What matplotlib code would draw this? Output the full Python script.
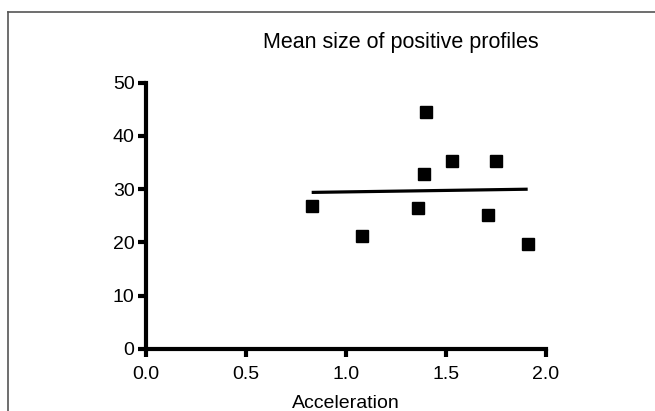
import matplotlib
matplotlib.use("Agg")
import matplotlib.pyplot as plt
from matplotlib.lines import Line2D

# values
acceleration = [0.83, 1.08, 1.36, 1.39, 1.40, 1.53, 1.71, 1.75, 1.91]
mean_size = [26.9, 21.2, 26.5, 32.9, 44.5, 35.3, 25.2, 35.3, 19.7]

# fitted line end points
fit_x = [0.83, 1.91]
fit_y = [29.4, 30.0]

x_ticks = [0.0, 0.5, 1.0, 1.5, 2.0]
x_tick_labels = ["0.0", "0.5", "1.0", "1.5", "2.0"]
y_ticks = [0, 10, 20, 30, 40, 50]

plt.rcParams["font.family"] = ["Liberation Sans", "DejaVu Sans"]

fig = plt.figure(figsize=(6.55, 4.11), dpi=100)
ax = fig.add_axes([0.2224, 0.1509, 0.6107, 0.6479])

ax.plot(acceleration, mean_size, "s", color="black", ms=8, zorder=3)
ax.plot(fit_x, fit_y, "-", color="black", lw=2.3, solid_capstyle="butt")

ax.set_xlim(0, 2.0)
ax.set_ylim(0, 50)
ax.set_xticks(x_ticks)
ax.set_xticklabels(x_tick_labels)
ax.set_yticks(y_ticks)

for side in ["top", "right"]:
    ax.spines[side].set_visible(False)
for side in ["left", "bottom"]:
    ax.spines[side].set_linewidth(3)
    ax.spines[side].set_capstyle("projecting")

ax.tick_params(axis="both", width=3, length=6, labelsize=14, pad=2)
ax.tick_params(axis="x", pad=6)

ax.set_xlabel("Acceleration", fontsize=14, labelpad=9)
fig.text(0.612, 0.897, "Mean size of positive profiles",
         fontsize=15.5, ha="center", va="center")

# grey frame: only the left and top edges fall inside the image
fx = 8 / 655
fy = 1 - 12 / 411
fig.add_artist(Line2D([fx, fx], [0, fy], transform=fig.transFigure,
                      color="#555555", lw=1.2))
fig.add_artist(Line2D([fx, 1], [fy, fy], transform=fig.transFigure,
                      color="#555555", lw=1.2))

fig.savefig("out.png", dpi=100)
